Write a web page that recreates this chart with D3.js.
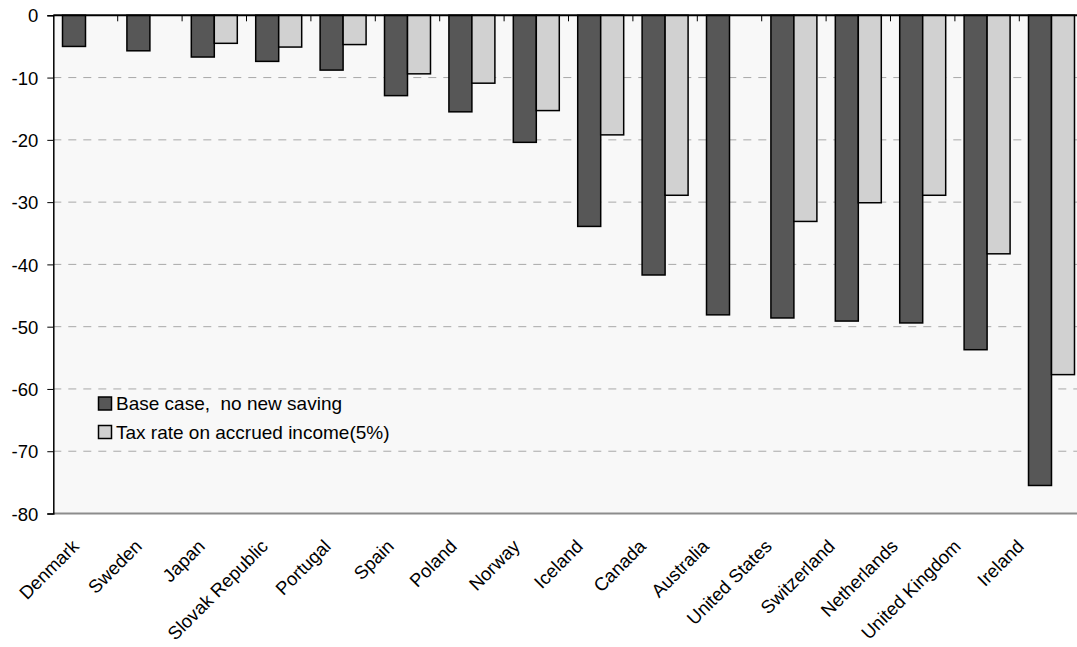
<!DOCTYPE html>
<html>
<head>
<meta charset="utf-8">
<script src="https://cdn.jsdelivr.net/npm/d3@7"></script>
<style>
  body { margin: 0; background: #ffffff; }
  text { font-family: "Liberation Sans", Arial, sans-serif; fill: #000; }
</style>
</head>
<body>
<div id="chart_div"></div>
<script>
// data
var countries = ["Denmark", "Sweden", "Japan", "Slovak Republic", "Portugal", "Spain", "Poland", "Norway",
  "Iceland", "Canada", "Australia", "United States", "Switzerland", "Netherlands", "United Kingdom", "Ireland"];
var baseCase = [-5.0, -5.7, -6.7, -7.4, -8.8, -12.9, -15.5, -20.4, -33.9, -41.7, -48.1, -48.6, -49.1, -49.4, -53.7, -75.5];
var taxAccrued = [null, null, -4.5, -5.1, -4.7, -9.4, -10.9, -15.3, -19.2, -28.9, null, -33.1, -30.1, -28.9, -38.3, -57.7];
var seriesNames = ["Base case,  no new saving", "Tax rate on accrued income(5%)"];
var yTicks = [0, -10, -20, -30, -40, -50, -60, -70, -80];

var all_width = 1077;
var all_height = 647;
var plot = {left: 53.3, right: 1083.7, top: 15.3, bottom: 513.5};

var svg = d3.select("#chart_div")
  .append("svg")
    .attr("width", all_width)
    .attr("height", all_height);

// scales
var x = d3.scaleBand()
  .domain(countries)
  .range([plot.left, plot.right])
  .paddingInner(0.286)
  .paddingOuter(0.143);

var xSub = d3.scaleBand()
  .domain([0, 1])
  .range([0, x.bandwidth()]);

// the labels sit on a slightly tighter spacing than the bars
var xLabel = d3.scalePoint()
  .domain(countries)
  .range([80, 1025]);

var y = d3.scaleLinear()
  .domain([-80, 0])
  .range([plot.bottom, plot.top]);

// plot background
svg.append("rect")
  .attr("x", plot.left)
  .attr("y", plot.top)
  .attr("width", plot.right - plot.left)
  .attr("height", plot.bottom - plot.top)
  .style("fill", "#f8f8f8");

// dashed gridlines
svg.selectAll("gridLines")
  .data(yTicks.filter(function(t) { return t != 0 && t != -80; }))
  .enter()
  .append("line")
    .attr("x1", plot.left)
    .attr("x2", plot.right)
    .attr("y1", function(d) { return y(d); })
    .attr("y2", function(d) { return y(d); })
    .attr("stroke", "#a8a8a8")
    .attr("stroke-width", 1)
    .attr("stroke-dasharray", "8,7");

// bottom border of the plot
svg.append("line")
  .attr("x1", plot.left)
  .attr("x2", plot.right)
  .attr("y1", plot.bottom)
  .attr("y2", plot.bottom)
  .attr("stroke", "#8c8c8c")
  .attr("stroke-width", 2);

// bars
var series = [baseCase, taxAccrued];
var colors = ["#575757", "#d1d1d1"];
series.forEach(function(vals, i) {
  svg.selectAll("bars" + i)
    .data(countries.map(function(c, j) { return {c: c, v: vals[j]}; }).filter(function(d) { return d.v != null; }))
    .enter()
    .append("rect")
      .attr("x", function(d) { return x(d.c) + xSub(i); })
      .attr("width", xSub.bandwidth())
      .attr("y", y(0))
      .attr("height", function(d) { return y(d.v) - y(0); })
      .attr("stroke", "black")
      .attr("stroke-width", 1.5)
      .style("fill", colors[i]);
});

// y axis
var yAxis = svg.append("g")
  .attr("transform", "translate(" + plot.left + ",0)")
  .call(d3.axisLeft(y).tickValues(yTicks).tickSize(6).tickPadding(9)
    .tickFormat(function(d) { return String(d); }));
yAxis.select(".domain").attr("stroke", "black").attr("stroke-width", 1.5);
yAxis.selectAll(".tick line").attr("stroke", "black");
yAxis.selectAll(".tick text").style("font-size", "18.5px").attr("dy", "0.36em");

// zero line with category ticks pointing down
svg.append("line")
  .attr("x1", plot.left)
  .attr("x2", plot.right)
  .attr("y1", y(0))
  .attr("y2", y(0))
  .attr("stroke", "black")
  .attr("stroke-width", 2);

svg.selectAll("catTicks")
  .data(countries.slice(1))
  .enter()
  .append("line")
    .attr("x1", function(d) { return x(d) - x.step() * x.paddingInner() / 2; })
    .attr("x2", function(d) { return x(d) - x.step() * x.paddingInner() / 2; })
    .attr("y1", y(0))
    .attr("y2", y(0) + 6)
    .attr("stroke", "black")
    .attr("stroke-width", 1);

// rotated category labels
svg.selectAll("catLabels")
  .data(countries)
  .enter()
  .append("text")
    .attr("text-anchor", "end")
    .attr("transform", function(d) {
      return "translate(" + xLabel(d) + "," + (plot.bottom + 34) + ") rotate(-45)";
    })
    .style("font-size", "18.5px")
    .text(function(d) { return d; });

// legend
var legend = svg.selectAll("legendRows")
  .data(seriesNames)
  .enter()
  .append("g")
    .attr("transform", function(d, i) { return "translate(98.5," + (397 + i * 28.5) + ")"; });
legend.append("rect")
  .attr("width", 13)
  .attr("height", 13)
  .attr("stroke", "black")
  .attr("stroke-width", 1.5)
  .style("fill", function(d, i) { return colors[i]; });
legend.append("text")
  .attr("x", 17.5)
  .attr("y", 13)
  .style("font-size", "19px")
  .style("white-space", "pre")
  .text(function(d) { return d; });
</script>
</body>
</html>
